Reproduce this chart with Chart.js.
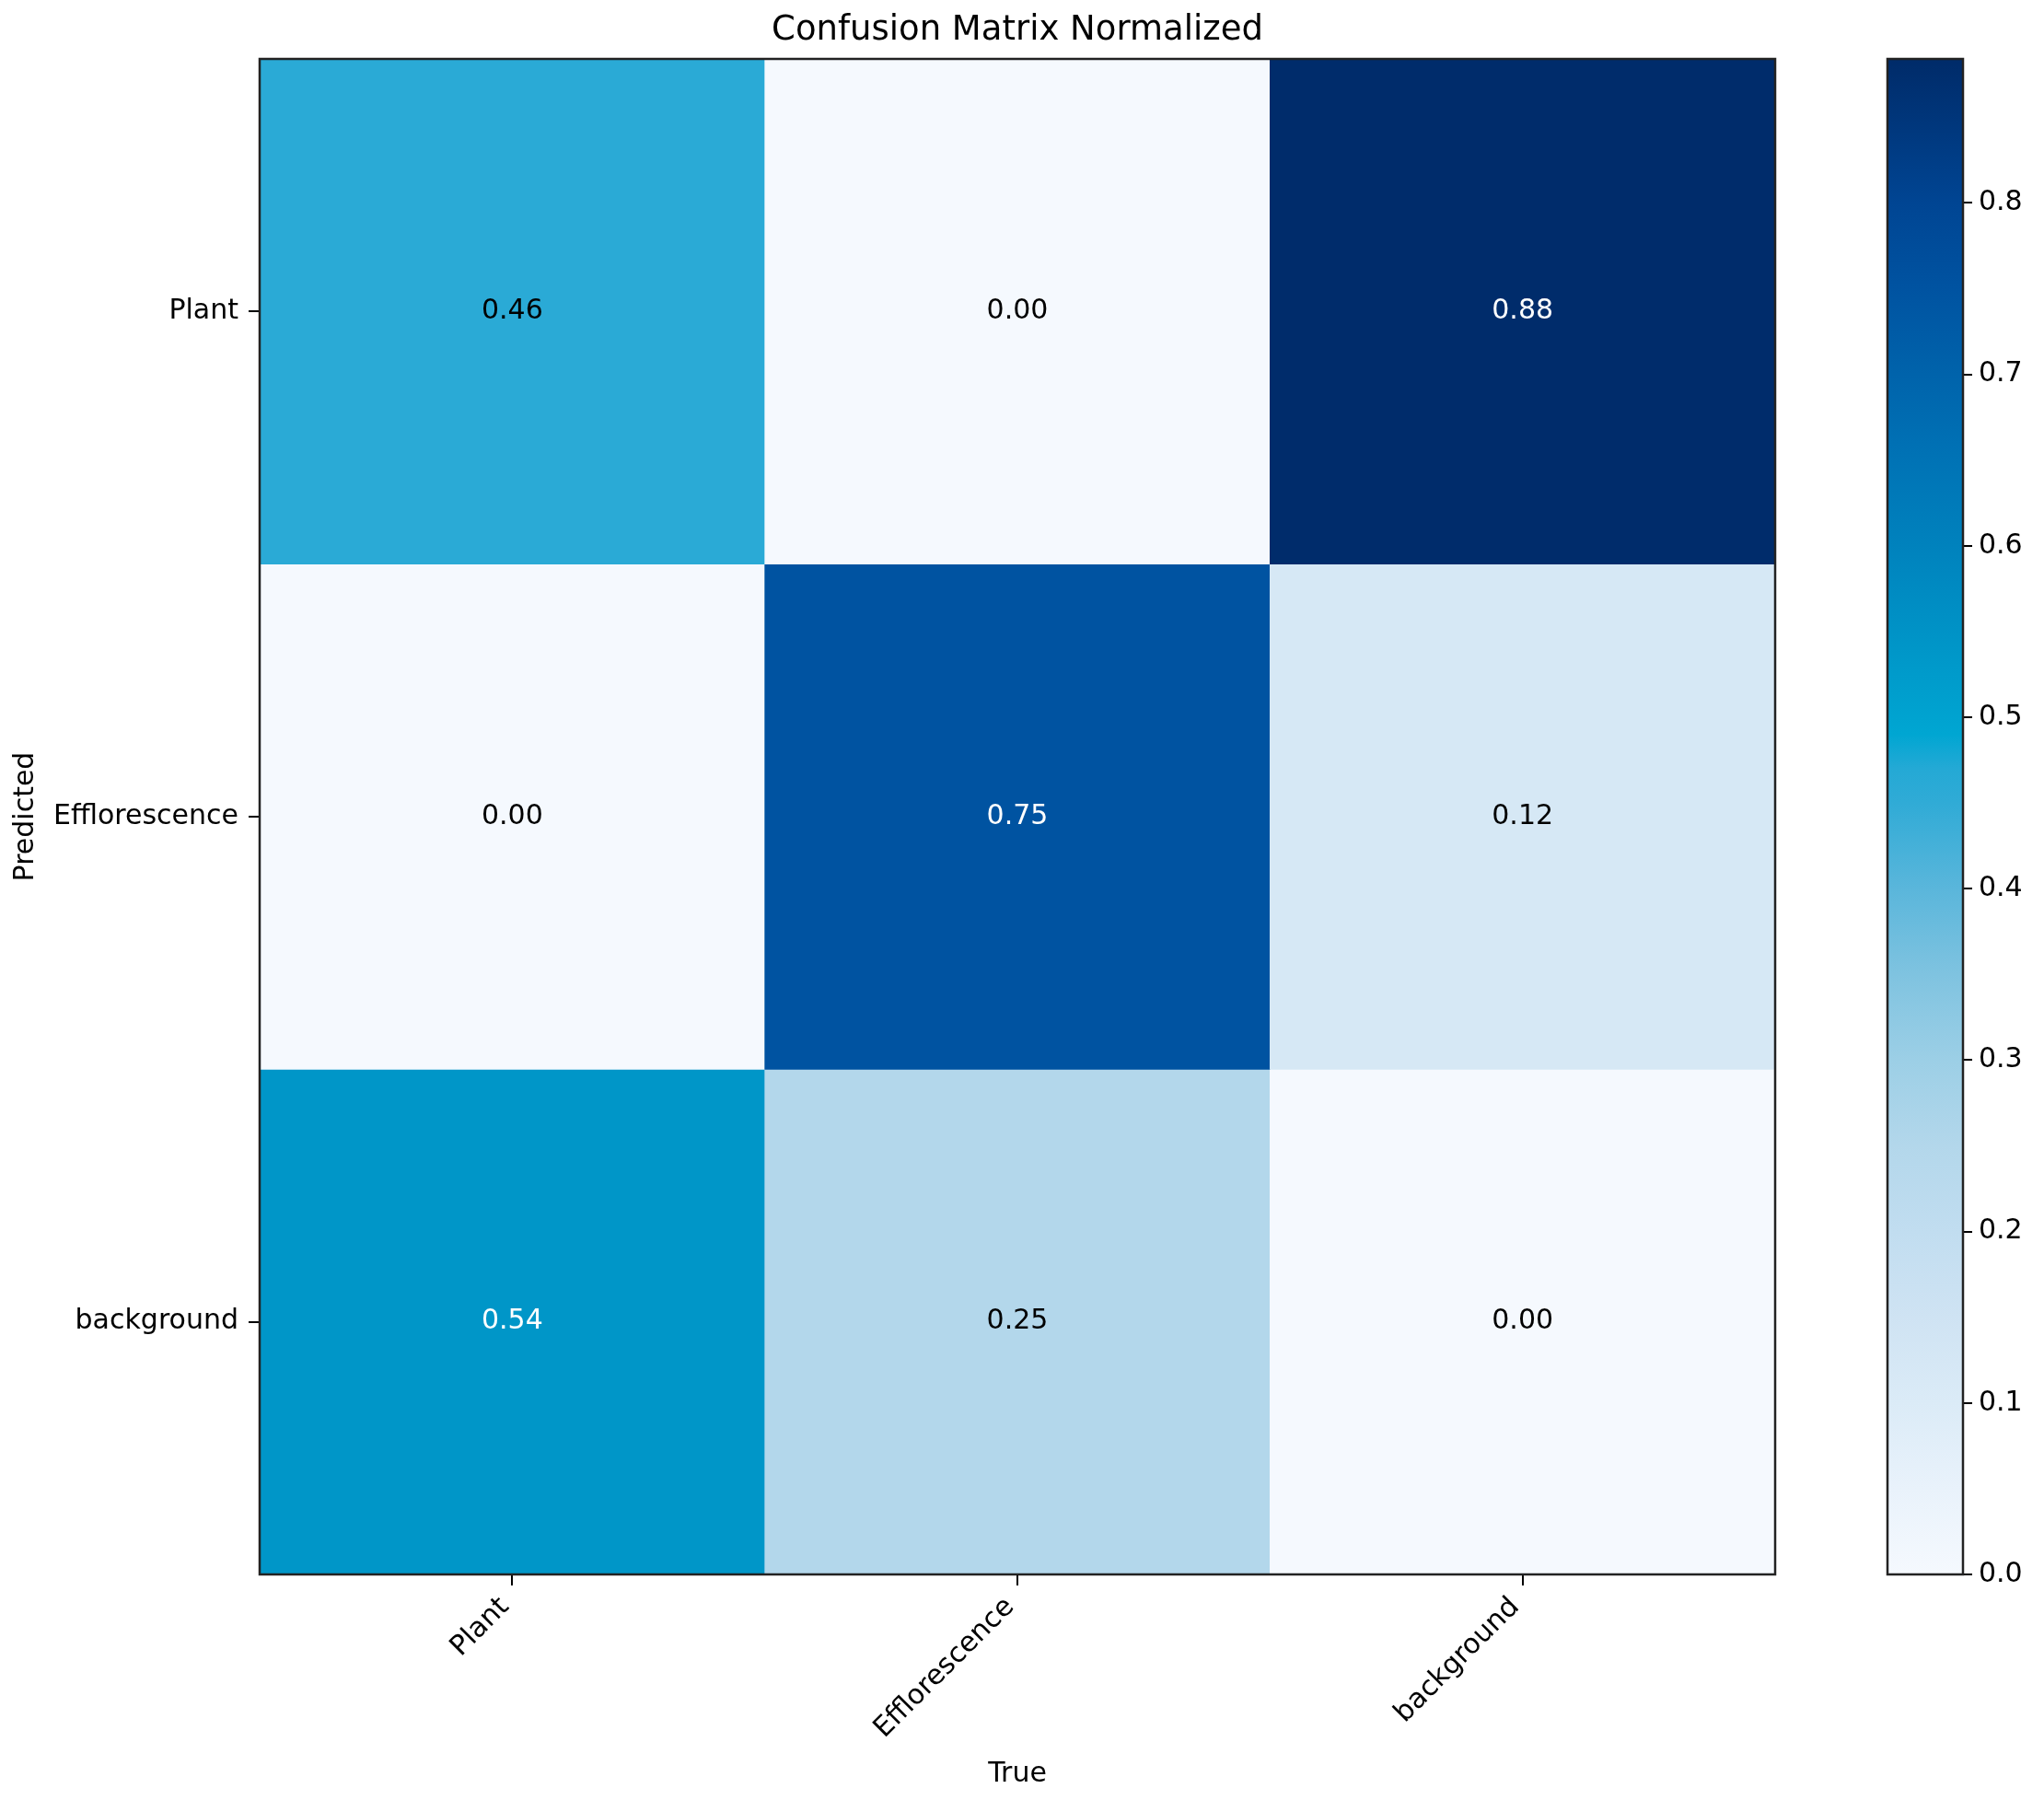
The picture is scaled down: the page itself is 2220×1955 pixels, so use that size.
<!DOCTYPE html>
<html>
<head>
<meta charset="utf-8">
<script src="https://cdn.jsdelivr.net/npm/chart.js@4"></script>
<style>
  html, body { margin: 0; padding: 0; background: #fff; overflow: hidden; }
  #main { position: absolute; left: 0; top: 0; }
  #cbar { position: absolute; left: 2000px; top: 0; }
</style>
</head>
<body>
<canvas id="main" width="2210" height="1955"></canvas>
<canvas id="cbar" width="220" height="1955"></canvas>
<script>
// ---- data ----
const trueLabels = ['Plant', 'Efflorescence', 'background'];
const predictedLabels = ['Plant', 'Efflorescence', 'background'];
const rowPlant = [0.46, 0.00, 0.88];
const rowEfflorescence = [0.00, 0.75, 0.12];
const rowBackground = [0.54, 0.25, 0.00];
const colorbarTicks = [0.0, 0.1, 0.2, 0.3, 0.4, 0.5, 0.6, 0.7, 0.8];
const colorbarMax = 0.884;

const matrix = [rowPlant, rowEfflorescence, rowBackground];

// ---- colormap (style) ----
const cmapStops = [
  [0.00, '#f5f9fe'], [0.05, '#e9f2fb'], [0.10, '#dbebf7'], [0.15, '#cfe3f3'],
  [0.20, '#c1ddf0'], [0.25, '#b3d7eb'], [0.30, '#9ccfe6'], [0.35, '#7fc3e0'],
  [0.40, '#5ab6db'], [0.45, '#30abd6'], [0.47, '#24a9d5'], [0.49, '#00a6d2'],
  [0.54, '#0096c8'], [0.60, '#0082bd'], [0.66, '#0070b4'], [0.70, '#0063ab'],
  [0.75, '#0053a1'], [0.80, '#004593'], [0.884, '#002b69']
];
function hex2rgb(h) { return [1, 3, 5].map(i => parseInt(h.substr(i, 2), 16)); }
function colorFor(v) {
  if (v <= cmapStops[0][0]) return cmapStops[0][1];
  for (let i = 1; i < cmapStops.length; i++) {
    if (v <= cmapStops[i][0]) {
      const [a, ca] = cmapStops[i - 1], [b, cb] = cmapStops[i];
      const t = (v - a) / (b - a);
      const A = hex2rgb(ca), B = hex2rgb(cb);
      const c = A.map((x, k) => Math.round(x + (B[k] - x) * t));
      return 'rgb(' + c.join(',') + ')';
    }
  }
  return cmapStops[cmapStops.length - 1][1];
}

const FONT = 'DejaVu Sans';
Chart.defaults.font.family = FONT;
Chart.defaults.color = '#000';

const frame = {
  id: 'frame',
  afterDatasetsDraw(chart, args, opts) {
    const a = chart.chartArea, ctx = chart.ctx;
    ctx.save();
    ctx.strokeStyle = '#222';
    ctx.lineWidth = opts.width || 2.5;
    ctx.strokeRect(a.left, a.top, a.right - a.left, a.bottom - a.top);
    ctx.restore();
  }
};

const annotate = {
  id: 'annotate',
  afterDatasetsDraw(chart) {
    const ctx = chart.ctx, xs = chart.scales.x, ys = chart.scales.y;
    ctx.save();
    ctx.font = '30px "' + FONT + '"';
    ctx.textAlign = 'center';
    ctx.textBaseline = 'middle';
    matrix.forEach((row, r) => {
      row.forEach((v, c) => {
        ctx.fillStyle = v > 0.5 ? '#ffffff' : '#000000';
        ctx.fillText(v.toFixed(2), xs.getPixelForValue(c), ys.getPixelForValue(r));
      });
    });
    ctx.restore();
  }
};

const datasets = matrix.map((row, r) => ({
  label: predictedLabels[r],
  data: row.map((v, c) => ({ x: trueLabels[c], y: [r - 0.5, r + 0.5], v: v })),
  backgroundColor: ctx => colorFor(ctx.raw ? ctx.raw.v : 0),
  borderWidth: 0,
  barPercentage: 1.0,
  categoryPercentage: 1.0,
  grouped: false
}));

new Chart(document.getElementById('main'), {
  type: 'bar',
  data: { labels: trueLabels, datasets: datasets },
  options: {
    responsive: false,
    animation: false,
    devicePixelRatio: 1,
    layout: { padding: { left: 0, right: 282, top: 0, bottom: 0 } },
    plugins: {
      legend: { display: false },
      tooltip: { enabled: false },
      title: {
        display: true,
        fullSize: false,
        text: 'Confusion Matrix Normalized',
        color: '#000',
        font: { family: FONT, size: 37, weight: 'normal', lineHeight: 1.2 },
        padding: { top: 11, bottom: 8.6 }
      },
      frame: { width: 2.5 }
    },
    scales: {
      x: {
        type: 'category',
        offset: true,
        grid: { display: true, offset: false, drawOnChartArea: false, drawTicks: true, tickLength: 12, color: '#000', lineWidth: 2 },
        border: { display: false },
        ticks: { autoSkip: false, maxRotation: 45, minRotation: 45, padding: 6, labelOffset: -8, font: { size: 30 }, color: '#000' },
        title: { display: true, text: 'True', font: { size: 30 }, color: '#000', padding: { top: 0, bottom: 10 } },
        afterFit(s) { s.height = 245; }
      },
      y: {
        type: 'linear',
        min: -0.5,
        max: 2.5,
        reverse: true,
        afterBuildTicks(s) { s.ticks = predictedLabels.map((_, i) => ({ value: i })); },
        grid: { display: true, drawOnChartArea: false, drawTicks: true, tickLength: 12, color: '#000', lineWidth: 2 },
        border: { display: false },
        ticks: { padding: 11, font: { size: 30 }, color: '#000', callback: v => predictedLabels[v] },
        title: { display: true, text: 'Predicted', font: { size: 30 }, color: '#000', padding: { top: 10, bottom: 0 } },
        afterFit(s) { s.width = 282; }
      }
    }
  },
  plugins: [frame, annotate]
});

// ---- colorbar ----
new Chart(document.getElementById('cbar'), {
  type: 'bar',
  data: {
    labels: ['cbar'],
    datasets: [{
      data: [[0, colorbarMax]],
      borderWidth: 0,
      barPercentage: 1.0,
      categoryPercentage: 1.0,
      backgroundColor: ctx => {
        const chart = ctx.chart, area = chart.chartArea;
        if (!area) return '#ccc';
        const ys = chart.scales.y;
        const g = chart.ctx.createLinearGradient(0, ys.getPixelForValue(0), 0, ys.getPixelForValue(colorbarMax));
        cmapStops.forEach(([v, c]) => g.addColorStop(Math.min(1, v / colorbarMax), c));
        return g;
      }
    }]
  },
  options: {
    responsive: false,
    animation: false,
    devicePixelRatio: 1,
    layout: { padding: { left: 50, right: 0, top: 64, bottom: 245 } },
    plugins: { legend: { display: false }, tooltip: { enabled: false }, frame: { width: 2.5 } },
    scales: {
      x: { display: false, offset: true },
      y: {
        position: 'right',
        min: 0,
        max: colorbarMax,
        afterBuildTicks(s) { s.ticks = colorbarTicks.map(v => ({ value: v })); },
        grid: { display: true, drawOnChartArea: false, drawTicks: true, tickLength: 10, color: '#000', lineWidth: 2 },
        border: { display: false },
        ticks: { padding: 7, font: { size: 30 }, color: '#000', callback: v => v.toFixed(1) },
        afterFit(s) { s.width = 88; }
      }
    }
  },
  plugins: [frame]
});
</script>
</body>
</html>
